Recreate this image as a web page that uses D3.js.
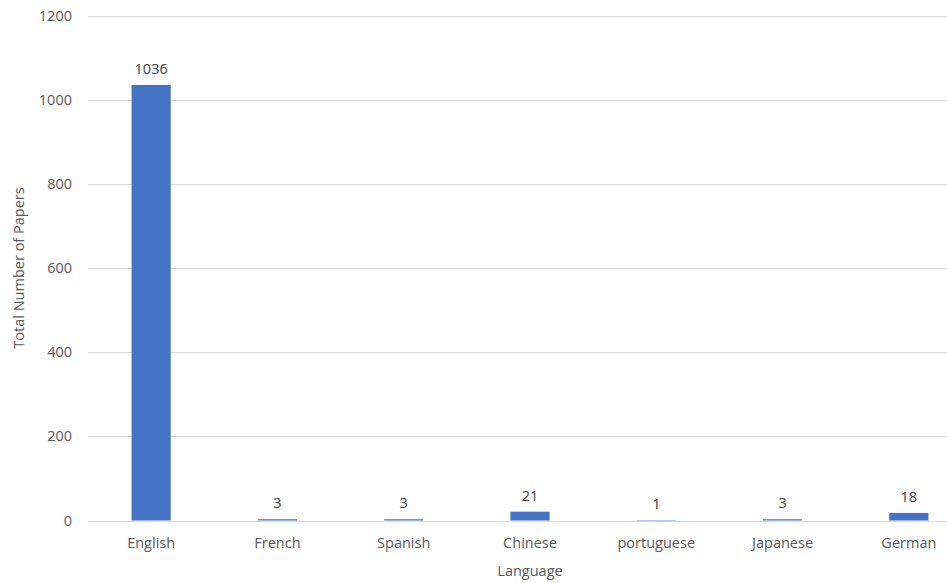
<!DOCTYPE html>
<html>
<head>
<meta charset="utf-8">
<script src="https://cdn.jsdelivr.net/npm/d3@7/dist/d3.min.js"></script>
<style>
  html, body { margin: 0; padding: 0; background: #fff; }
  svg { display: block; font-family: "Open Sans", "Noto Sans", sans-serif; }
</style>
</head>
<body>
<svg id="chart" width="947" height="583"></svg>
<script>
// Papers per language
const languages = ["English", "French", "Spanish", "Chinese", "portuguese", "Japanese", "German"];
const paperCounts = [1036, 3, 3, 21, 1, 3, 18];
const yTicks = [0, 200, 400, 600, 800, 1000, 1200];

const svg = d3.select("#chart");
const plot = { left: 88, right: 972, top: 16, bottom: 520.5 };

const x = d3.scaleBand().domain(languages).range([plot.left, plot.right]).paddingInner(0.69).paddingOuter(0.345);
const y = d3.scaleLinear().domain([0, 1200]).range([plot.bottom, plot.top]);

// gridlines
svg.append("g").selectAll("line").data(yTicks).join("line")
  .attr("x1", plot.left).attr("x2", plot.right)
  .attr("y1", d => Math.round(y(d)) + 0.5).attr("y2", d => Math.round(y(d)) + 0.5)
  .attr("stroke", "#d9d9d9").attr("stroke-width", 1);

// y tick labels
svg.append("g").selectAll("text").data(yTicks).join("text")
  .attr("x", 72).attr("y", d => y(d)).attr("dy", "0.35em")
  .attr("text-anchor", "end").attr("fill", "#595959").attr("font-size", 14.5)
  .text(d => d);

// bars
svg.append("g").selectAll("rect").data(languages).join("rect")
  .attr("x", d => x(d)).attr("width", x.bandwidth())
  .attr("y", (d, i) => y(paperCounts[i]))
  .attr("height", (d, i) => y(0) - y(paperCounts[i]))
  .attr("fill", "#4472c4");

// value labels
svg.append("g").selectAll("text").data(languages).join("text")
  .attr("x", d => x(d) + x.bandwidth() / 2)
  .attr("y", (d, i) => y(paperCounts[i]) - 11)
  .attr("text-anchor", "middle").attr("fill", "#404040").attr("font-size", 14.5)
  .text((d, i) => paperCounts[i]);

// category labels
svg.append("g").selectAll("text").data(languages).join("text")
  .attr("x", d => x(d) + x.bandwidth() / 2)
  .attr("y", 548)
  .attr("text-anchor", "middle").attr("fill", "#595959").attr("font-size", 14.5)
  .text(d => d);

// axis titles
svg.append("text").attr("x", 530).attr("y", 576)
  .attr("text-anchor", "middle").attr("fill", "#595959").attr("font-size", 14.5)
  .text("Language");
svg.append("text").attr("transform", "translate(24,268) rotate(-90)")
  .attr("text-anchor", "middle").attr("fill", "#595959").attr("font-size", 14.5)
  .text("Total Number of Papers");
</script>
</body>
</html>
